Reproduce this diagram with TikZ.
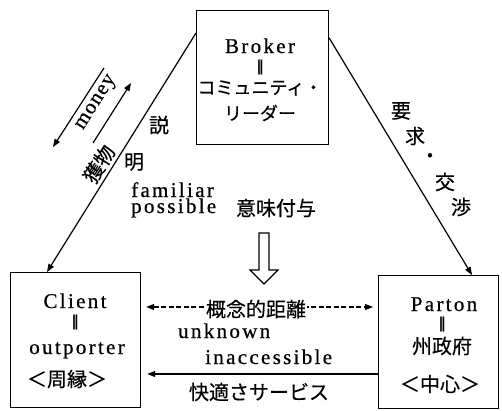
\documentclass[tikz,border=0pt]{standalone}
\usepackage{fontspec}
\setmainfont{Liberation Serif}
\newfontfamily\lat[LetterSpace=11,FakeBold=0.6]{Liberation Serif}
\newfontfamily\latn[FakeBold=0.6]{Liberation Serif}
\newfontfamily\jp[FakeBold=0.4]{Noto Sans CJK JP}
\newfontfamily\dv{DejaVu Sans}
\usetikzlibrary{arrows.meta,calc}
\begin{document}
\begin{tikzpicture}[x=1pt,y=1pt,
  box/.style={draw,line width=1.2pt,inner sep=0pt,anchor=north west},
  lt/.style={font=\lat\fontsize{21}{23}\selectfont,inner sep=0pt},
  jt/.style={font=\jp\fontsize{20}{22}\selectfont,inner sep=0pt},
  js/.style={font=\jp\fontsize{18}{20}\selectfont,inner sep=0pt},
  bars/.style={font=\dv\bfseries\fontsize{15}{16}\selectfont,inner sep=0pt},
  tipk/.tip={Triangle[length=8pt,width=6pt]},
  arr/.style={line width=1.2pt,-tipk},
  darr/.style={line width=1.2pt,tipk-tipk,dash pattern=on 5pt off 2.5pt},
]
\useasboundingbox (0,0) rectangle (502,-410);
\fill[white] (0,0) rectangle (502,-410);

% boxes
\node[box,minimum width=132pt,minimum height=134pt] (broker) at (196,-10) {};
\node[box,minimum width=130pt,minimum height=135pt] (client) at (10,-272) {};
\node[box,minimum width=120pt,minimum height=133pt] (parton) at (378,-275) {};

% broker text
\node[lt,anchor=base] (b1) at (260,-53) {Broker};
\node[bars] (b2) at (260,-68) {‖};
\node[js] (b3) at (260,-88) {コミュニティ・};
\node[js] (b4) at (260,-113) {リーダー};

% client text
\node[lt,anchor=base] (c1) at (75,-308) {Client};
\node[bars] (c2) at (75,-323) {‖};
\node[lt,anchor=base] (c3) at (77,-354) {outporter};
\node[jt] (c4) at (67,-379) {＜周縁＞};

% parton text
\node[lt,anchor=base] (p1) at (444,-311) {Parton};
\node[bars] (p2) at (442,-325) {‖};
\node[jt] (p3) at (442,-346) {州政府};
\node[jt] (p4) at (440,-384) {＜中心＞};

% main connectors
\draw[arr] ($(broker.north west)+(0,-23)$) -- ($(client.north west)+(37,0)$);
\draw[arr] ($(broker.north east)+(0,-28)$) -- ($(parton.north west)+(94,0)$);

% money / 獲物 arrows
\coordinate (m1) at (104,-68);
\coordinate (m2) at (53,-147);
\coordinate (g1) at (93,-143);
\coordinate (g2) at (131,-83);
\draw[arr] (m1) -- (m2);
\draw[arr] (g1) -- (g2);
\node[font=\latn\fontsize{21}{23}\selectfont,inner sep=0pt,rotate=57.7] (money) at (97,-103) {m\kern1pt o\kern1pt n\kern1pt e\kern1pt y};
\node[jt,rotate=57.7] (emono) at (99,-164) {獲物};

% left side labels
\node[jt] (s1) at (159,-125) {説};
\node[jt] (s2) at (134,-162) {明};
\node[lt,anchor=base west] (fam) at (131,-197) {familiar};
\node[lt,anchor=base west] (pos) at (131,-213) {possible};
\node[jt] (imi) at (276,-208) {意味付与};

% right side label 要求・交渉
\node[jt] (r1) at (401,-111) {要};
\node[jt] (r2) at (415,-136) {求};
\node[jt] (r3) at (430,-158) {・};
\node[jt] (r4) at (445,-182) {交};
\node[jt] (r5) at (461,-207) {渉};

% hollow arrow
\draw[line width=1.1pt,line join=miter,fill=white]
  (259,-233) -- (269,-233) -- (269,-270) -- (278,-270) -- (264,-284)
  -- (250,-270) -- (259,-270) -- cycle;

% bottom connectors
\draw[darr] ($(client.north east)+(5,-35)$) -- ($(parton.north west)+(-5,-32)$);
\node[jt,fill=white,inner xsep=1pt] (gainen) at (256,-309) {概念的距離};
\node[lt,anchor=base west] (unk) at (178,-338) {unknown};
\node[lt,anchor=base west] (inacc) at (205,-364) {inaccessible};
\draw[arr] ($(parton.north west)+(0,-99)$) -- ($(client.north east)+(6,-102)$);
\node[jt] (kai) at (259,-392) {快適さサービス};
\end{tikzpicture}
\end{document}
